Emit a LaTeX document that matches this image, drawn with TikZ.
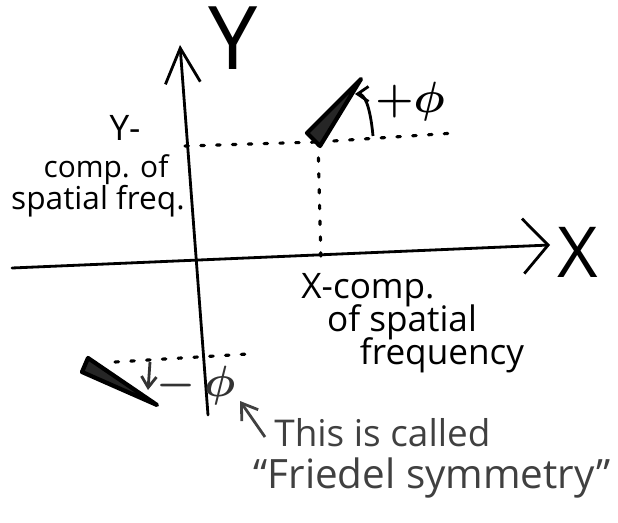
\documentclass[tikz,border=0pt]{standalone}
\usepackage{fontspec}
\setmainfont{Open Sans}
\usetikzlibrary{arrows.meta,positioning}
\tikzset{
  axis/.style  ={line width=1.6pt,line cap=round},
  guide/.style ={line width=1.8pt,dash pattern=on 2pt off 7pt,line cap=round},
  rodbox/.style={draw,line width=2.4pt,line join=round,fill=black!85},
  ang/.style   ={line width=1.6pt,-{Straight Barb[length=2.2mm,width=3mm]}},
  lbl/.style   ={inner sep=0pt,align=center},
  pen/.style   ={text=black!75},
}
\begin{document}
\begin{tikzpicture}[x=0.02cm,y=-0.02cm]
  \useasboundingbox (0,0) rectangle (618,523);
  % axes
  \coordinate (xs) at (12,268);
  \coordinate (xe) at (550,245);
  \coordinate (ys) at (208,415);
  \coordinate (ye) at (180,45);
  \draw[axis,-{Straight Barb[length=5mm,width=11mm]}] (xs) -- (xe);
  \draw[axis,-{Straight Barb[length=7mm,width=7mm]}] (ys) -- (ye);
  \node[lbl,font=\fontsize{40}{40}\selectfont] (xlab) at (578,252) {X};
  \node[lbl,font=\fontsize{50}{50}\selectfont] (ylab) at (233,38) {Y};
  % the spot at +phi
  \coordinate (p) at (318,142);
  \coordinate (py) at (185,146);
  \coordinate (px) at (321,262);
  \coordinate (pe) at (455,133);
  \draw[guide] (py) -- (p);
  \draw[guide] (p) -- (px);
  \draw[guide] (p) -- (pe);
  \draw[rodbox] (307,133) -- (361,79) -- (320,146) -- cycle;
  \coordinate (pa) at (373,136);
  \coordinate (pb) at (355,94);
  \draw[ang] (pa) .. controls (370,104) and (364,94) .. (pb);
  \node[lbl,font=\fontsize{26}{26}\selectfont\mathversion{bold}] (plusphi) at (410,102) {$+\phi$};
  % the spot at -phi
  \coordinate (qa) at (115,362);
  \coordinate (qb) at (248,354);
  \draw[guide] (qa) -- (qb);
  \draw[rodbox] (88,358) -- (157,405) -- (82,372) -- cycle;
  \coordinate (qd) at (150,362);
  \coordinate (qe) at (148,390);
  \draw[ang,black!80] (qd) -- (qe);
  \node[lbl,text=black!80,font=\fontsize{26}{26}\selectfont\mathversion{bold}] (minusphi) at (196,386) {$-\,\phi$};
  % labels of the spot
  \node[lbl,font=\fontsize{20}{20}\selectfont] (ycomp) at (125,128) {Y-};
  \node[lbl,font=\fontsize{17}{17}\selectfont] (ycomp2) at (106,170) {comp. of};
  \node[lbl,font=\fontsize{18}{18}\selectfont] (ycomp3) at (98,201) {spatial freq.};
  \node[lbl,font=\fontsize{20}{20}\selectfont] (xcomp) at (368,290) {X-comp.};
  \node[lbl,font=\fontsize{20}{20}\selectfont] (xcomp2) at (402,322) {of spatial};
  \node[lbl,font=\fontsize{20}{20}\selectfont] (xcomp3) at (442,355) {frequency};
  % note
  \node[lbl,pen,font=\fontsize{21}{21}\selectfont,anchor=west] (note) at (274,433) {This is called};
  \node[lbl,pen,font=\fontsize{23}{23}\selectfont] (note2) at (432,478) {\char"201C Friedel symmetry\char"201D};
  \coordinate (na) at (265,437);
  \coordinate (nb) at (240,401);
  \draw[line width=1.6pt,black!75,-{Straight Barb[length=3mm,width=4mm]}] (na) -- (nb);
\end{tikzpicture}
\end{document}
